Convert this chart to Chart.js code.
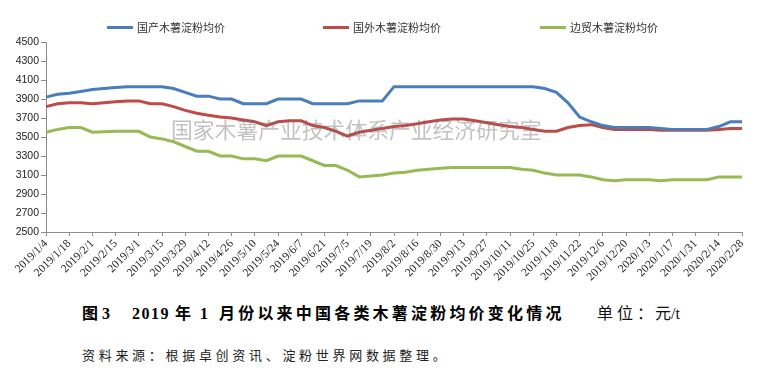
<!DOCTYPE html>
<html>
<head>
<meta charset="utf-8">
<script src="https://cdn.jsdelivr.net/npm/chart.js@4"></script>
<style>
  html, body { margin: 0; padding: 0; background: #fff; }
  #wrap { position: relative; width: 775px; height: 378px; overflow: hidden; background: #fff; }
  #chartBox { position: absolute; left: 0; top: 0; width: 775px; height: 300px; }
  .lg { position: absolute; top: 20px; height: 14px; display: flex; align-items: center;
        font-family: "Noto Sans CJK SC", sans-serif; font-size: 11px; color: #333; white-space: nowrap; }
  .lg i { display: inline-block; width: 26px; height: 3px; margin-right: 4px; }
  #wm { position: absolute; left: 171px; top: 117px; font-family: "Noto Sans CJK SC", sans-serif;
        font-size: 21.8px; line-height: 24px; color: rgba(110,110,110,0.42); white-space: nowrap; }
  .cap { position: absolute; top: 304px; line-height: 20px; font-size: 16px; font-weight: bold; color: #000;
         font-family: "Liberation Serif", "Noto Sans CJK SC", serif; white-space: nowrap; }
  .unit { position: absolute; top: 304px; line-height: 20px; font-size: 16px; color: #111;
          font-family: "Liberation Serif", "Noto Sans CJK SC", serif; white-space: nowrap; }
  #src { position: absolute; left: 82px; top: 346px; line-height: 18px; font-size: 13px; letter-spacing: 3.7px;
         color: #222; font-family: "Noto Sans CJK SC", sans-serif; white-space: nowrap; }
</style>
</head>
<body>
<div id="wrap">
  <div id="chartBox"><canvas id="c" width="775" height="300"></canvas></div>
  <div id="legend"></div>
  <div id="wm">国家木薯产业技术体系产业经济研究室</div>
  <div class="cap" style="left:82px;letter-spacing:4px;">图3</div>
  <div class="cap" style="left:132px;letter-spacing:1.5px;">2019</div>
  <div class="cap" style="left:175px;">年</div>
  <div class="cap" style="left:200px;">1</div>
  <div class="cap" style="left:219px;letter-spacing:3.2px;">月份以来中国各类木薯淀粉均价变化情况</div>
  <div class="unit" style="left:597px;letter-spacing:4px;">单位：</div>
  <div class="unit" style="left:655px;">元/t</div>
  <div id="src">资料来源：根据卓创资讯、淀粉世界网数据整理。</div>
</div>
<script>
const dates = [
  "2019/1/4","2019/1/11","2019/1/18","2019/1/25","2019/2/1","2019/2/8","2019/2/15","2019/2/22",
  "2019/3/1","2019/3/8","2019/3/15","2019/3/22","2019/3/29","2019/4/5","2019/4/12","2019/4/19","2019/4/26",
  "2019/5/3","2019/5/10","2019/5/17","2019/5/24","2019/5/31","2019/6/7","2019/6/14","2019/6/21","2019/6/28",
  "2019/7/5","2019/7/12","2019/7/19","2019/7/26","2019/8/2","2019/8/9","2019/8/16","2019/8/23","2019/8/30",
  "2019/9/6","2019/9/13","2019/9/20","2019/9/27","2019/10/4","2019/10/11","2019/10/18","2019/10/25",
  "2019/11/1","2019/11/8","2019/11/15","2019/11/22","2019/11/29","2019/12/6","2019/12/13","2019/12/20","2019/12/27",
  "2020/1/3","2020/1/10","2020/1/17","2020/1/24","2020/1/31","2020/2/7","2020/2/14","2020/2/21","2020/2/28"
];
const seriesNames = ["国产木薯淀粉均价", "国外木薯淀粉均价", "边贸木薯淀粉均价"];
const domestic = [
  3920,3950,3960,3980,4000,4010,4020,4030,4030,4030,4030,4010,3970,3930,3930,3900,3900,
  3850,3850,3850,3900,3900,3900,3850,3850,3850,3850,3880,3880,3880,
  4030,4030,4030,4030,4030,4030,4030,4030,4030,4030,4030,4030,4030,
  4010,3970,3860,3710,3660,3620,3600,3600,3600,3600,3590,3580,3580,3580,3580,3610,3660,3660
];
const foreign = [
  3820,3850,3860,3860,3850,3860,3870,3880,3880,3850,3850,3820,3780,3750,3730,3710,3700,
  3680,3660,3620,3660,3670,3670,3620,3600,3560,3510,3550,3570,3590,
  3610,3620,3640,3660,3680,3690,3690,3670,3650,3630,3610,3600,3580,
  3560,3560,3600,3620,3630,3600,3580,3580,3580,3580,3570,3570,3570,3570,3570,3580,3590,3590
];
const border = [
  3550,3580,3600,3600,3550,3555,3560,3560,3560,3500,3480,3450,3400,3350,3350,3300,3300,
  3270,3270,3250,3300,3300,3300,3250,3200,3200,3150,3080,3090,3100,
  3120,3130,3150,3160,3170,3180,3180,3180,3180,3180,3180,3160,3150,
  3120,3100,3100,3100,3080,3050,3040,3050,3050,3050,3040,3050,3050,3050,3050,3080,3080,3080
];
const seriesColors = ["#4A7EBB", "#BE4B48", "#98B954"];
const yMin = 2500, yMax = 4500, yStep = 200;

// legend
const legendLeft = [107, 323, 540];
const lg = document.getElementById('legend');
seriesNames.forEach((n, k) => {
  const d = document.createElement('div');
  d.className = 'lg';
  d.style.left = legendLeft[k] + 'px';
  d.innerHTML = '<i style="background:' + seriesColors[k] + '"></i><span>' + n + '</span>';
  lg.appendChild(d);
});

const axisColor = '#8C8C8C';
const seriesData = [domestic, foreign, border];
new Chart(document.getElementById('c'), {
  type: 'line',
  data: {
    labels: dates,
    datasets: seriesNames.map((n, k) => ({
      label: n,
      data: seriesData[k],
      borderColor: seriesColors[k],
      backgroundColor: seriesColors[k],
      borderWidth: 3,
      pointRadius: 0,
      tension: 0,
      fill: false
    }))
  },
  options: {
    responsive: false,
    animation: false,
    devicePixelRatio: 1,
    layout: { padding: { left: 0, right: 33, top: 42, bottom: 0 } },
    plugins: { legend: { display: false }, tooltip: { enabled: false } },
    scales: {
      x: {
        type: 'category',
        offset: false,
        border: { display: true, color: axisColor, width: 1 },
        grid: {
          drawOnChartArea: false, drawTicks: true, tickLength: 4,
          color: ctx => (ctx.index % 2 === 0 ? axisColor : 'rgba(0,0,0,0)'),
          tickColor: ctx => (ctx.index % 2 === 0 ? axisColor : 'rgba(0,0,0,0)')
        },
        ticks: {
          autoSkip: false, maxRotation: 45, minRotation: 45, padding: 1,
          color: '#222',
          font: { family: 'Liberation Serif', size: 11.5 },
          callback: function(v, i) { return i % 2 === 0 ? dates[i] : ''; }
        },
        afterFit: s => { s.height = 68; }
      },
      y: {
        min: yMin, max: yMax,
        border: { display: true, color: axisColor, width: 1 },
        grid: { drawOnChartArea: false, drawTicks: true, tickLength: 5, color: axisColor },
        ticks: {
          stepSize: yStep, padding: 2, color: '#222',
          font: { family: 'Liberation Sans', size: 10.5 },
          callback: v => String(v)
        },
        afterFit: s => { s.width = 46; }
      }
    }
  }
});
</script>
</body>
</html>
